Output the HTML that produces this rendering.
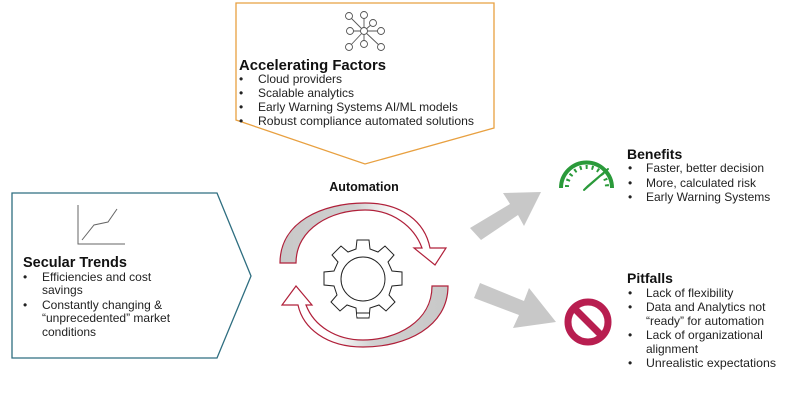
<!DOCTYPE html>
<html><head><meta charset="utf-8"><style>
body{margin:0;background:#fff;width:800px;height:409px;overflow:hidden}
svg{display:block;font-family:"Liberation Sans",Arial,sans-serif}
</style></head><body>
<svg width="800" height="409" viewBox="0 0 800 409">
<defs>
<linearGradient id="g1" x1="0" x2="1" y1="0" y2="0"><stop offset="0" stop-color="#c8c8c8"/><stop offset="0.45" stop-color="#d0d0d0"/><stop offset="0.7" stop-color="#fff"/></linearGradient>
<linearGradient id="g2" x1="1" x2="0" y1="0" y2="0"><stop offset="0" stop-color="#c8c8c8"/><stop offset="0.45" stop-color="#d0d0d0"/><stop offset="0.7" stop-color="#fff"/></linearGradient>
</defs>
<polygon points="236,3 494,3 494,128 365,164 236,120" fill="#fff" stroke="#e8a040" stroke-width="1.3"/>
<g stroke="#555" stroke-width="0.9" fill="#fff">
<line x1="349" y1="16" x2="364" y2="31"/><line x1="364" y1="16" x2="364" y2="31"/><line x1="373" y1="23" x2="364" y2="31"/><line x1="349" y1="31" x2="381" y2="31"/><line x1="349" y1="47" x2="364" y2="31"/><line x1="364" y1="44" x2="364" y2="31"/><line x1="381" y1="47" x2="364" y2="31"/>
<circle cx="349" cy="16" r="3.5"/><circle cx="364" cy="15" r="3.5"/><circle cx="373" cy="23" r="3.5"/><circle cx="350" cy="31" r="3.5"/><circle cx="364" cy="31" r="3.5"/><circle cx="381" cy="31" r="3.5"/><circle cx="349" cy="47" r="3.5"/><circle cx="364" cy="44" r="3.5"/><circle cx="381" cy="47" r="3.5"/>
</g>
<text x="239" y="70" font-size="14.5" font-weight="bold" fill="#111" textLength="147" lengthAdjust="spacingAndGlyphs">Accelerating Factors</text>
<g font-size="12" fill="#222">
<text x="239" y="83">•</text><text x="258" y="83">Cloud providers</text>
<text x="239" y="97">•</text><text x="258" y="97">Scalable analytics</text>
<text x="239" y="111">•</text><text x="258" y="111">Early Warning Systems AI/ML models</text>
<text x="239" y="125">•</text><text x="258" y="125" textLength="216" lengthAdjust="spacingAndGlyphs">Robust compliance automated solutions</text>
</g>
<polygon points="12,193 217,193 251,276 217,358 12,358" fill="#fff" stroke="#2e6e80" stroke-width="1.3"/>
<g stroke="#666" fill="none" stroke-width="1"><polyline points="78,205 78,244 125,244"/><polyline points="82,240 94,225 108,222 117,209"/></g>
<text x="23" y="267" font-size="14.5" font-weight="bold" fill="#111">Secular Trends</text>
<g font-size="12" fill="#222">
<text x="23" y="281">•</text><text x="42" y="281">Efficiencies and cost</text>
<text x="42" y="294">savings</text>
<text x="23" y="309">•</text><text x="42" y="309">Constantly changing &amp;</text>
<text x="42" y="322">“unprecedented” market</text>
<text x="42" y="336">conditions</text>
</g>
<text x="364" y="191" font-size="12.5" font-weight="bold" fill="#111" text-anchor="middle">Automation</text>
<path d="M280,263 C280,222 322,203 365,203 C402,203 425,222 430,248 L446,248 L435,265 L414,248 L422,248 C414,226 392,210 365,210 C332,210 296,228 296,263 Z" fill="url(#g1)" stroke="#b0203a" stroke-width="1.2"/>
<path d="M448,286 C448,327 406,347 363,347 C326,347 303,328 298,305 L282,305 L296,286 L312,305 L306,305 C314,326 336,340 363,340 C396,340 432,322 432,286 Z" fill="url(#g2)" stroke="#b0203a" stroke-width="1.2"/>
<g transform="translate(363,279)">
<path fill="#fff" stroke="#222" stroke-width="1" d="M-6,-39 L6,-39 L7,-30 L15,-27 L22,-33 L31,-24 L25,-17 L29,-8 L39,-7 L39,6 L29,7 L26,16 L32,23 L23,32 L16,26 L7,29 L6,39 L-6,39 L-7,29 L-16,26 L-23,32 L-32,23 L-26,16 L-29,7 L-39,6 L-39,-7 L-29,-8 L-25,-17 L-31,-24 L-22,-33 L-15,-27 L-7,-30 Z"/>
<circle r="22" fill="#fff" stroke="#222" stroke-width="1"/>
<line x1="-6" y1="36" x2="6" y2="36" stroke="#fff" stroke-width="3"/>
<line x1="-6" y1="34" x2="6" y2="34" stroke="#222" stroke-width="1"/>
</g>
<polygon points="470,228 510,204 503,193 541,192 524,226 518,215 481,240" fill="#c8c8c8"/>
<polygon points="474,298 480,283 524,301 529,288 556,322 513,328 519,315" fill="#c8c8c8"/>
<g fill="none" stroke="#2a9a3a">
<path d="M561,188 A24,24 0 0 1 612,188" stroke-width="4"/>
<path d="M567,187 A18,18 0 0 1 607,187" stroke-width="4" stroke-dasharray="2 4"/>
</g>
<polygon points="584,190 588,186 608,169" fill="#2a9a3a" stroke="#2a9a3a" stroke-width="2" stroke-linejoin="round"/>
<circle cx="588" cy="322" r="20" fill="none" stroke="#b81e50" stroke-width="7"/>
<line x1="575" y1="309" x2="601" y2="335" stroke="#b81e50" stroke-width="7"/>
<text x="627" y="159" font-size="14" font-weight="bold" fill="#111">Benefits</text>
<g font-size="12" fill="#222">
<text x="628" y="172">•</text><text x="646" y="172">Faster, better decision</text>
<text x="628" y="187">•</text><text x="646" y="187">More, calculated risk</text>
<text x="628" y="201">•</text><text x="646" y="201">Early Warning Systems</text>
</g>
<text x="627" y="283" font-size="14" font-weight="bold" fill="#111">Pitfalls</text>
<g font-size="12" fill="#222">
<text x="628" y="297">•</text><text x="646" y="297">Lack of flexibility</text>
<text x="628" y="311">•</text><text x="646" y="311">Data and Analytics not</text>
<text x="646" y="325">“ready” for automation</text>
<text x="628" y="339">•</text><text x="646" y="339">Lack of organizational</text>
<text x="646" y="353">alignment</text>
<text x="628" y="367">•</text><text x="646" y="367" textLength="130" lengthAdjust="spacingAndGlyphs">Unrealistic expectations</text>
</g>
</svg>
</body></html>
